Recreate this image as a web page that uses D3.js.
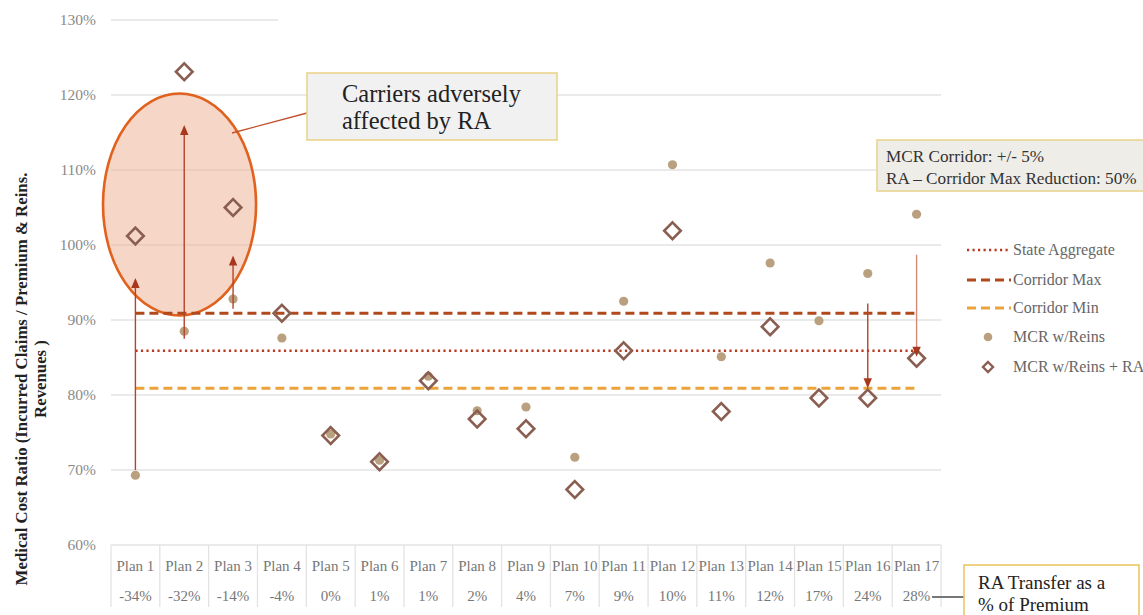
<!DOCTYPE html>
<html>
<head>
<meta charset="utf-8">
<script src="https://cdn.jsdelivr.net/npm/d3@7"></script>
<style>
  html, body { margin: 0; padding: 0; background: #fff; }
  svg { display: block; font-family: "Liberation Serif", "DejaVu Serif", serif; }
</style>
</head>
<body>
<svg id="chart" width="1143" height="615"></svg>
<script>
// ---- data ----
const plans = ["Plan 1","Plan 2","Plan 3","Plan 4","Plan 5","Plan 6","Plan 7","Plan 8","Plan 9",
               "Plan 10","Plan 11","Plan 12","Plan 13","Plan 14","Plan 15","Plan 16","Plan 17"];
const raTransfer = ["-34%","-32%","-14%","-4%","0%","1%","1%","2%","4%","7%","9%","10%","11%","12%","17%","24%","28%"];
const mcrReins   = [0.693,0.885,0.928,0.876,0.748,0.713,0.825,0.779,0.784,0.717,0.925,1.107,0.851,0.976,0.899,0.962,1.041];
const mcrReinsRA = [1.012,1.231,1.050,0.909,0.746,0.711,0.819,0.768,0.755,0.674,0.859,1.019,0.778,0.891,0.796,0.796,0.849];
const stateAggregate = 0.859;
const corridorMax = 0.909;
const corridorMin = 0.809;
const yTicks = [0.6,0.7,0.8,0.9,1.0,1.1,1.2,1.3];
// RA shift arrows
const arrowPlans = ["Plan 1","Plan 2","Plan 3","Plan 16","Plan 17"];
const arrowFrom  = [0.700,0.875,0.915,0.922,0.987];
const arrowTo    = [0.956,1.160,0.986,0.809,0.851];

// ---- layout ----
const svg = d3.select("#chart");
const plotLeft = 111, plotRight = 941, plotTop = 20, plotBottom = 545;
const x = d3.scaleBand().domain(plans).range([plotLeft, plotRight]).padding(0);
const y = d3.scaleLinear().domain([0.6, 1.3]).range([plotBottom, plotTop]);
const cx = p => x(p) + x.bandwidth() / 2;

const C = {
  grid: "#e3e3e3", tick: "#8a8a8a",
  state: "#b83a22", cmax: "#b04a1c", cmin: "#eca33a",
  dot: "#b9a07e", diamond: "#8a5f52", arrow: "#b5432a"
};

// gridlines (top line is shortened)
svg.append("g").selectAll("line")
  .data(yTicks)
  .join("line")
  .attr("x1", plotLeft)
  .attr("x2", d => d === 1.3 ? 278 : plotRight)
  .attr("y1", d => y(d)).attr("y2", d => y(d))
  .attr("stroke", C.grid).attr("stroke-width", 1.3);

// y axis labels
const yAxis = d3.axisLeft(y).tickValues(yTicks).tickFormat(d3.format(".0%")).tickSize(0).tickPadding(0);
const gy = svg.append("g").attr("transform", `translate(96,0)`).call(yAxis);
gy.select(".domain").remove();
gy.selectAll("text").attr("font-family", "Liberation Serif, serif").attr("font-size", 15.5).attr("fill", C.tick);

// category table under the plot
const table = svg.append("g");
const bounds = plans.map(p => x(p)).concat([plotRight]);
table.selectAll("line.v").data(bounds).join("line")
  .attr("x1", d => d).attr("x2", d => d).attr("y1", plotBottom).attr("y2", 607)
  .attr("stroke", C.grid).attr("stroke-width", 1.3);
table.selectAll("text.plan").data(plans).join("text")
  .attr("x", d => cx(d)).attr("y", 571).attr("text-anchor", "middle")
  .attr("font-size", 15).attr("fill", "#777").text(d => d);
table.selectAll("text.ra").data(plans).join("text")
  .attr("x", d => cx(d)).attr("y", 601).attr("text-anchor", "middle")
  .attr("font-size", 15).attr("fill", "#777").text((d, i) => raTransfer[i]);

// y axis title
const yt = svg.append("g").attr("font-size", 16.8).attr("font-weight", "bold").attr("fill", "#222");
yt.append("text").attr("transform", "translate(27,379) rotate(-90)").attr("text-anchor", "middle")
  .text("Medical Cost Ratio (Incurred Claims / Premium & Reins.");
yt.append("text").attr("transform", "translate(46,379) rotate(-90)").attr("text-anchor", "middle")
  .text("Revenues )");

// highlight ellipse around adversely affected carriers
const eTop = y(1.202), eBot = y(0.906);
const eLeft = x("Plan 1") - 8, eRight = cx("Plan 3") + 23;
svg.append("ellipse")
  .attr("cx", (eLeft + eRight) / 2).attr("cy", (eTop + eBot) / 2)
  .attr("rx", (eRight - eLeft) / 2).attr("ry", (eBot - eTop) / 2)
  .attr("fill", "#eeae90").attr("fill-opacity", 0.5)
  .attr("stroke", "#e0621e").attr("stroke-width", 2.6);

// reference lines
function hline(v, color, dash, w) {
  svg.append("line")
    .attr("x1", cx("Plan 1")).attr("x2", cx("Plan 17"))
    .attr("y1", y(v)).attr("y2", y(v))
    .attr("stroke", color).attr("stroke-width", w).attr("stroke-dasharray", dash);
}
hline(corridorMin, C.cmin, "9 5", 3);
hline(stateAggregate, C.state, "2.2 3.3", 2.4);
hline(corridorMax, C.cmax, "9 5", 3);

// MCR w/Reins points
svg.append("g").selectAll("circle").data(plans).join("circle")
  .attr("cx", d => cx(d)).attr("cy", (d, i) => y(mcrReins[i])).attr("r", 4.6)
  .attr("fill", C.dot);

// MCR w/Reins + RA diamonds
const dia = s => `M0,${-s}L${s},0L0,${s}L${-s},0Z`;
svg.append("g").selectAll("path").data(plans).join("path")
  .attr("transform", (d, i) => `translate(${cx(d)},${y(mcrReinsRA[i])})`)
  .attr("d", dia(8.3)).attr("fill", "none")
  .attr("stroke", C.diamond).attr("stroke-width", 2.6);

// arrows showing the RA shift
const ag = svg.append("g");
arrowPlans.forEach((p, i) => {
  const ax = cx(p), y0 = y(arrowFrom[i]), y1 = y(arrowTo[i]);
  const dir = y1 < y0 ? 1 : -1;
  const lineColor = p === "Plan 17" ? "#d48a78" : C.arrow;
  ag.append("line").attr("x1", ax).attr("x2", ax).attr("y1", y0).attr("y2", y1 + dir * 6)
    .attr("stroke", lineColor).attr("stroke-width", 1.4);
  ag.append("path")
    .attr("d", `M${ax},${y1}L${ax - 4.2},${y1 + dir * 10}L${ax + 4.2},${y1 + dir * 10}Z`)
    .attr("fill", "#a8381c");
});

// callout for the ellipse
svg.append("line").attr("x1", 232).attr("y1", 133).attr("x2", 307).attr("y2", 113)
  .attr("stroke", "#c4502e").attr("stroke-width", 1.3);
svg.append("rect").attr("x", 307).attr("y", 73).attr("width", 250).attr("height", 67)
  .attr("fill", "#f1f1f1").attr("stroke", "#ebd48c").attr("stroke-width", 1.6);
const cb = svg.append("text").attr("font-size", 24.5).attr("fill", "#222");
cb.append("tspan").attr("x", 342).attr("y", 102).text("Carriers adversely");
cb.append("tspan").attr("x", 342).attr("y", 129).text("affected by RA");

// corridor parameters box
svg.append("rect").attr("x", 877).attr("y", 140).attr("width", 275).attr("height", 51)
  .attr("fill", "#efede8").attr("stroke", "#e9d48e").attr("stroke-width", 1.6);
const pb = svg.append("text").attr("font-size", 17.2).attr("fill", "#333");
pb.append("tspan").attr("x", 886).attr("y", 162).text("MCR Corridor: +/- 5%");
pb.append("tspan").attr("x", 886).attr("y", 184).text("RA \u2013 Corridor Max Reduction: 50%");

// legend
const lg = svg.append("g").attr("font-size", 16).attr("fill", "#666");
const legendRows = [
  { label: "State Aggregate", type: "line", color: C.state, dash: "2.2 3.3", w: 2.4, y: 250 },
  { label: "Corridor Max", type: "line", color: C.cmax, dash: "9 5", w: 3, y: 280 },
  { label: "Corridor Min", type: "line", color: C.cmin, dash: "9 5", w: 3, y: 308 },
  { label: "MCR w/Reins", type: "dot", y: 337 },
  { label: "MCR w/Reins + RA", type: "diamond", y: 367 }
];
legendRows.forEach(r => {
  if (r.type === "line") {
    lg.append("line").attr("x1", 967).attr("x2", 1011).attr("y1", r.y).attr("y2", r.y)
      .attr("stroke", r.color).attr("stroke-width", r.w).attr("stroke-dasharray", r.dash);
  } else if (r.type === "dot") {
    lg.append("circle").attr("cx", 988).attr("cy", r.y).attr("r", 4.3).attr("fill", C.dot);
  } else {
    lg.append("path").attr("transform", `translate(988,${r.y})`).attr("d", dia(5))
      .attr("fill", "none").attr("stroke", C.diamond).attr("stroke-width", 2.4);
  }
  lg.append("text").attr("x", 1013).attr("y", r.y).attr("dy", "0.33em").text(r.label);
});

// RA transfer row label
svg.append("line").attr("x1", 932).attr("x2", 966).attr("y1", 597).attr("y2", 597)
  .attr("stroke", "#777").attr("stroke-width", 2);
svg.append("rect").attr("x", 964).attr("y", 565).attr("width", 175).attr("height", 70)
  .attr("fill", "#fff").attr("stroke", "#ecc865").attr("stroke-width", 1.6);
const rb = svg.append("text").attr("font-size", 19).attr("fill", "#222");
rb.append("tspan").attr("x", 978).attr("y", 589).text("RA Transfer as a");
rb.append("tspan").attr("x", 978).attr("y", 611).text("% of Premium");
</script>
</body>
</html>
